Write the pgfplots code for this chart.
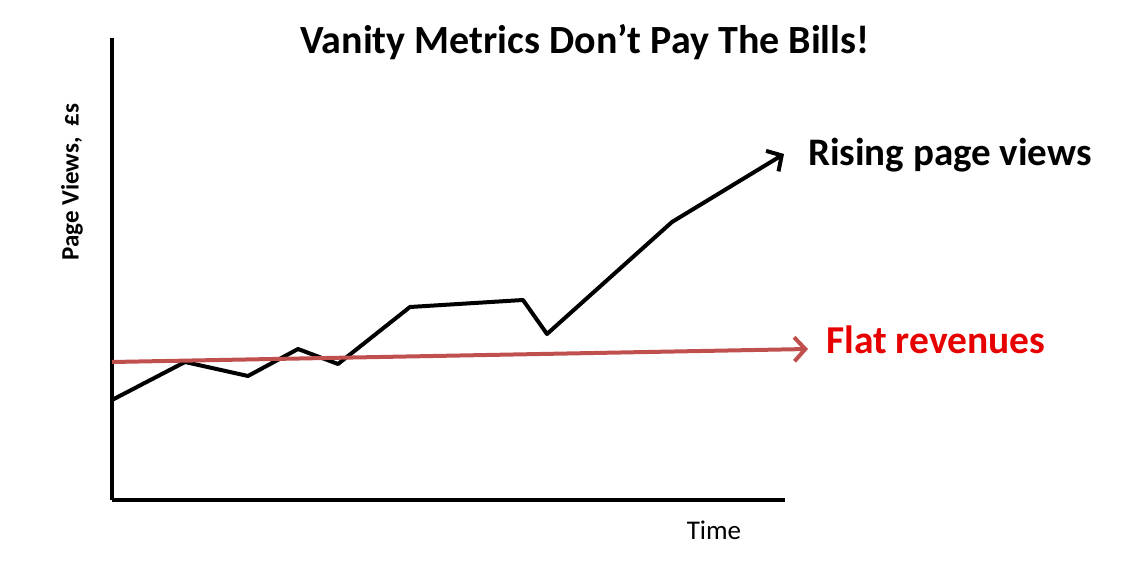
\documentclass[border=0pt]{standalone}
\usepackage{fontspec}
\setmainfont{Carlito}
\usepackage{pgfplots}
\pgfplotsset{compat=1.18}
\usetikzlibrary{arrows.meta}
\definecolor{revline}{RGB}{192,80,77}
\definecolor{revtext}{RGB}{230,0,0}
\begin{document}
\begin{tikzpicture}[x=1pt,y=1pt]
\path (0,0) rectangle (1130,573);
\begin{axis}[
  scale only axis,
  width=673pt, height=462pt,
  at={(112pt,73pt)}, anchor=south west,
  xmin=112, xmax=785, ymin=73, ymax=535,
  axis x line*=bottom, axis y line*=left,
  axis line style={line width=4pt,-},
  xtick=\empty, ytick=\empty,
  clip=false,
]
\addplot[black, line width=4pt, line join=round,
  -{Straight Barb[length=11pt,width=24pt,line width=4pt]}]
  coordinates {(112,173)(185,211)(248,197)(298,224)(338,209)(410,266)(523,273)(547,239)(672,351)(784,419)};
\addplot[revline, line width=4pt,
  -{Straight Barb[length=11pt,width=24pt,line width=4pt]}]
  coordinates {(112,211)(808,224)};
\node[font=\fontsize{40}{46}\selectfont\bfseries, anchor=center] at (axis cs:585,531) {Vanity Metrics Don’t Pay The Bills!};
\node[font=\fontsize{39}{45}\selectfont\bfseries, anchor=west, inner sep=0pt] at (axis cs:808,418) {Rising page views};
\node[font=\fontsize{39.5}{45}\selectfont\bfseries, text=revtext, anchor=west, inner sep=0pt] at (axis cs:826,233) {Flat revenues};
\node[font=\fontsize{27}{31}\selectfont, anchor=center] at (axis cs:714,43) {Time};
\node[font=\fontsize{25}{29}\selectfont\bfseries, rotate=90, anchor=center] at (axis cs:72,391) {Page Views,\ \ £s};
\end{axis}
\end{tikzpicture}
\end{document}
